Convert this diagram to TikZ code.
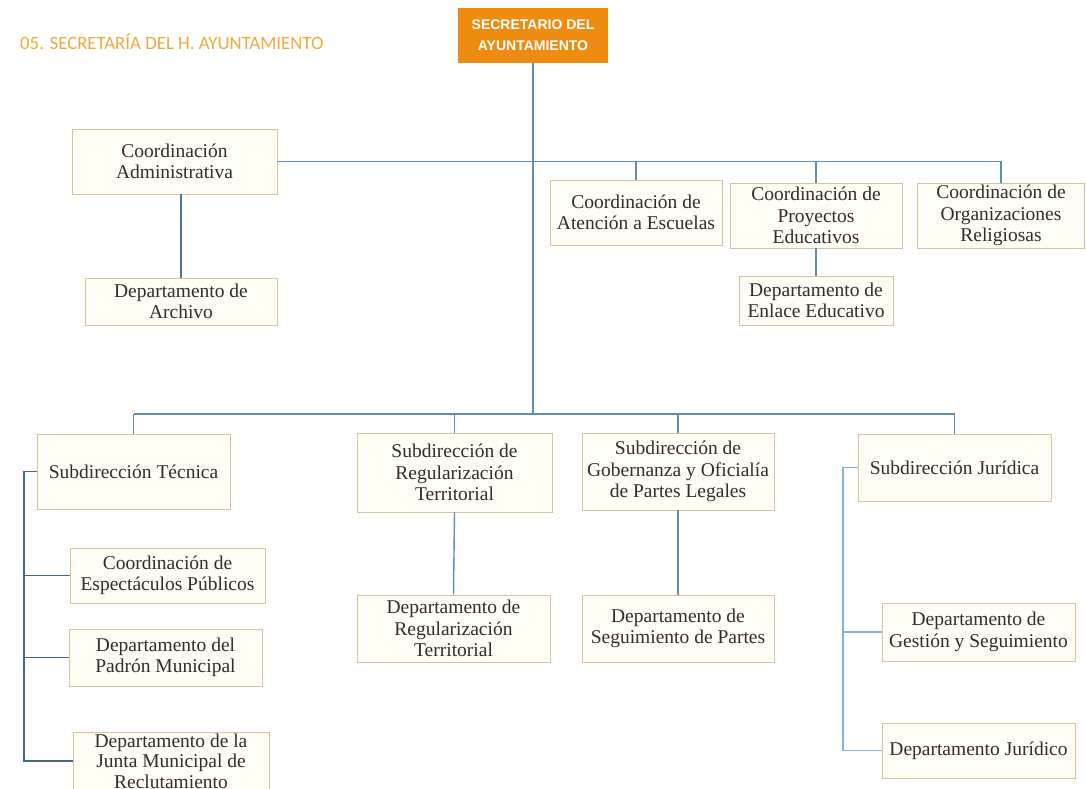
\documentclass[tikz,border=0pt]{standalone}
\usepackage{fontspec}
\setmainfont{Liberation Serif}
\newfontfamily\titlefont{Carlito}
\newfontfamily\headfont{Liberation Sans}
\usetikzlibrary{shadows}

\definecolor{boxedge}{HTML}{D3C49C}
\definecolor{boxfill}{HTML}{FFFDF4}
\definecolor{ink}{HTML}{2E2E2E}
\definecolor{headorange}{HTML}{EE8C12}
\definecolor{titleorange}{HTML}{F0A93E}
\definecolor{linkblue}{HTML}{5F8FAE}
\definecolor{linkslate}{HTML}{4E7286}
\definecolor{bracketdark}{HTML}{3F6A82}
\definecolor{bracketlight}{HTML}{86B4CC}

\begin{document}
\begin{tikzpicture}[x=1pt,y=-1pt,
  orgbox/.style={draw=boxedge, fill=boxfill, line width=0.9pt, inner sep=0pt,
    align=center, text=ink, font=\fontsize{19.5}{21.5}\selectfont,
    drop shadow={shadow xshift=0.8pt, shadow yshift=-1.2pt, fill=black, opacity=0.15}},
  headbox/.style={fill=headorange, inner sep=0pt, align=center, text=white,
    font=\headfont\bfseries\fontsize{14}{21}\selectfont},
  link/.style={draw=linkblue, line width=1.4pt},
  slatelink/.style={draw=linkslate, line width=1.5pt},
  darkbracket/.style={draw=bracketdark, line width=1.6pt},
  lightbracket/.style={draw=bracketlight, line width=1.2pt}]

\useasboundingbox (0,0) rectangle (1086,789);
\fill[white] (0,0) rectangle (1086,789);

% heading
\node[anchor=west, inner sep=0pt, text=titleorange,
      font=\titlefont\fontsize{18.8}{20}\selectfont] (title) at (20,42)
  {05. SECRETARÍA DEL H. AYUNTAMIENTO};
\node[headbox, minimum width=150pt, minimum height=55pt] (top) at (533,35.5)
  {SECRETARIO DEL\\AYUNTAMIENTO};

% first level
\node[orgbox, minimum width=205pt, minimum height=65pt] (coadm) at (174.5,161.5)
  {Coordinación\\Administrativa};
\node[orgbox, minimum width=192pt, minimum height=47pt] (archivo) at (181,301.5)
  {Departamento de\\Archivo};
\node[orgbox, minimum width=172pt, minimum height=65pt] (aten) at (636,212.5)
  {Coordinación de\\Atención a Escuelas};
\node[orgbox, minimum width=172pt, minimum height=65pt] (proy) at (816,215.5)
  {Coordinación de\\Proyectos\\Educativos};
\node[orgbox, minimum width=167pt, minimum height=65pt] (org) at (1001,215.5)
  {Coordinación de\\Organizaciones\\Religiosas};
\node[orgbox, minimum width=154pt, minimum height=49pt] (enlace) at (816,300.5)
  {Departamento de\\Enlace Educativo};

% second level
\node[orgbox, minimum width=193pt, minimum height=75pt] (subtec) at (133.5,471.5)
  {Subdirección Técnica};
\node[orgbox, minimum width=195pt, minimum height=79pt] (subreg) at (454.5,472.5)
  {Subdirección de\\Regularización\\Territorial};
\node[orgbox, minimum width=192pt, minimum height=77pt] (subgob) at (678,471.5)
  {Subdirección de\\Gobernanza y Oficialía\\de Partes Legales};
\node[orgbox, minimum width=193pt, minimum height=67pt] (subjur) at (954.5,467.5)
  {Subdirección Jurídica};

\node[orgbox, minimum width=193pt, minimum height=67pt] (deptreg) at (453.5,628.5)
  {Departamento de\\Regularización\\Territorial};
\node[orgbox, minimum width=192pt, minimum height=67pt] (segpartes) at (678,628.5)
  {Departamento de\\Seguimiento de Partes};

\node[orgbox, minimum width=195pt, minimum height=55pt] (espect) at (167.5,575.5)
  {Coordinación de\\Espectáculos Públicos};
\node[orgbox, minimum width=193pt, minimum height=57pt] (padron) at (165.5,657.5)
  {Departamento del\\Padrón Municipal};
\node[orgbox, minimum width=196pt, minimum height=58pt,
      font=\fontsize{19.5}{20.5}\selectfont] (junta) at (171,761)
  {Departamento de la\\Junta Municipal de\\Reclutamiento};

\node[orgbox, minimum width=193pt, minimum height=58pt] (gestion) at (978.5,632)
  {Departamento de\\Gestión y Seguimiento};
\node[orgbox, minimum width=193pt, minimum height=55pt] (juridico) at (978.5,750.5)
  {Departamento Jurídico};

% bus heights and bracket columns
\coordinate (bustwo) at (0,414);
\coordinate (leftcol) at (24,0);
\coordinate (rightcol) at (843,0);

% trunk and first-level bus
\draw[link] (top.south) -- (top.south |- bustwo);
\draw[link] (coadm.east) -- (coadm.east -| org.north) -- (org.north);
\draw[link] (aten.north |- coadm.east) -- (aten.north);
\draw[link] (proy.north |- coadm.east) -- (proy.north);
\draw[slatelink] (archivo.north |- coadm.south) -- (archivo.north);
\draw[link] (proy.south) -- (enlace.north);

% second-level bus
\draw[link] (subtec.north |- bustwo) -- (subjur.north |- bustwo);
\draw[link] (subtec.north |- bustwo) -- (subtec.north);
\draw[link] (subreg.north |- bustwo) -- (subreg.north);
\draw[link] (subgob.north |- bustwo) -- (subgob.north);
\draw[link] (subjur.north |- bustwo) -- (subjur.north);
\draw[link] (subreg.south) -- (deptreg.north);
\draw[link] (subgob.south) -- (segpartes.north);

% side brackets
\draw[darkbracket] (subtec.west) -- (subtec.west -| leftcol)
  -- (junta.west -| leftcol) -- (junta.west);
\draw[darkbracket] (espect.west -| leftcol) -- (espect.west);
\draw[darkbracket] (padron.west -| leftcol) -- (padron.west);

\draw[lightbracket] (subjur.west) -- (subjur.west -| rightcol)
  -- (juridico.west -| rightcol) -- (juridico.west);
\draw[lightbracket] (gestion.west -| rightcol) -- (gestion.west);
\end{tikzpicture}
\end{document}
